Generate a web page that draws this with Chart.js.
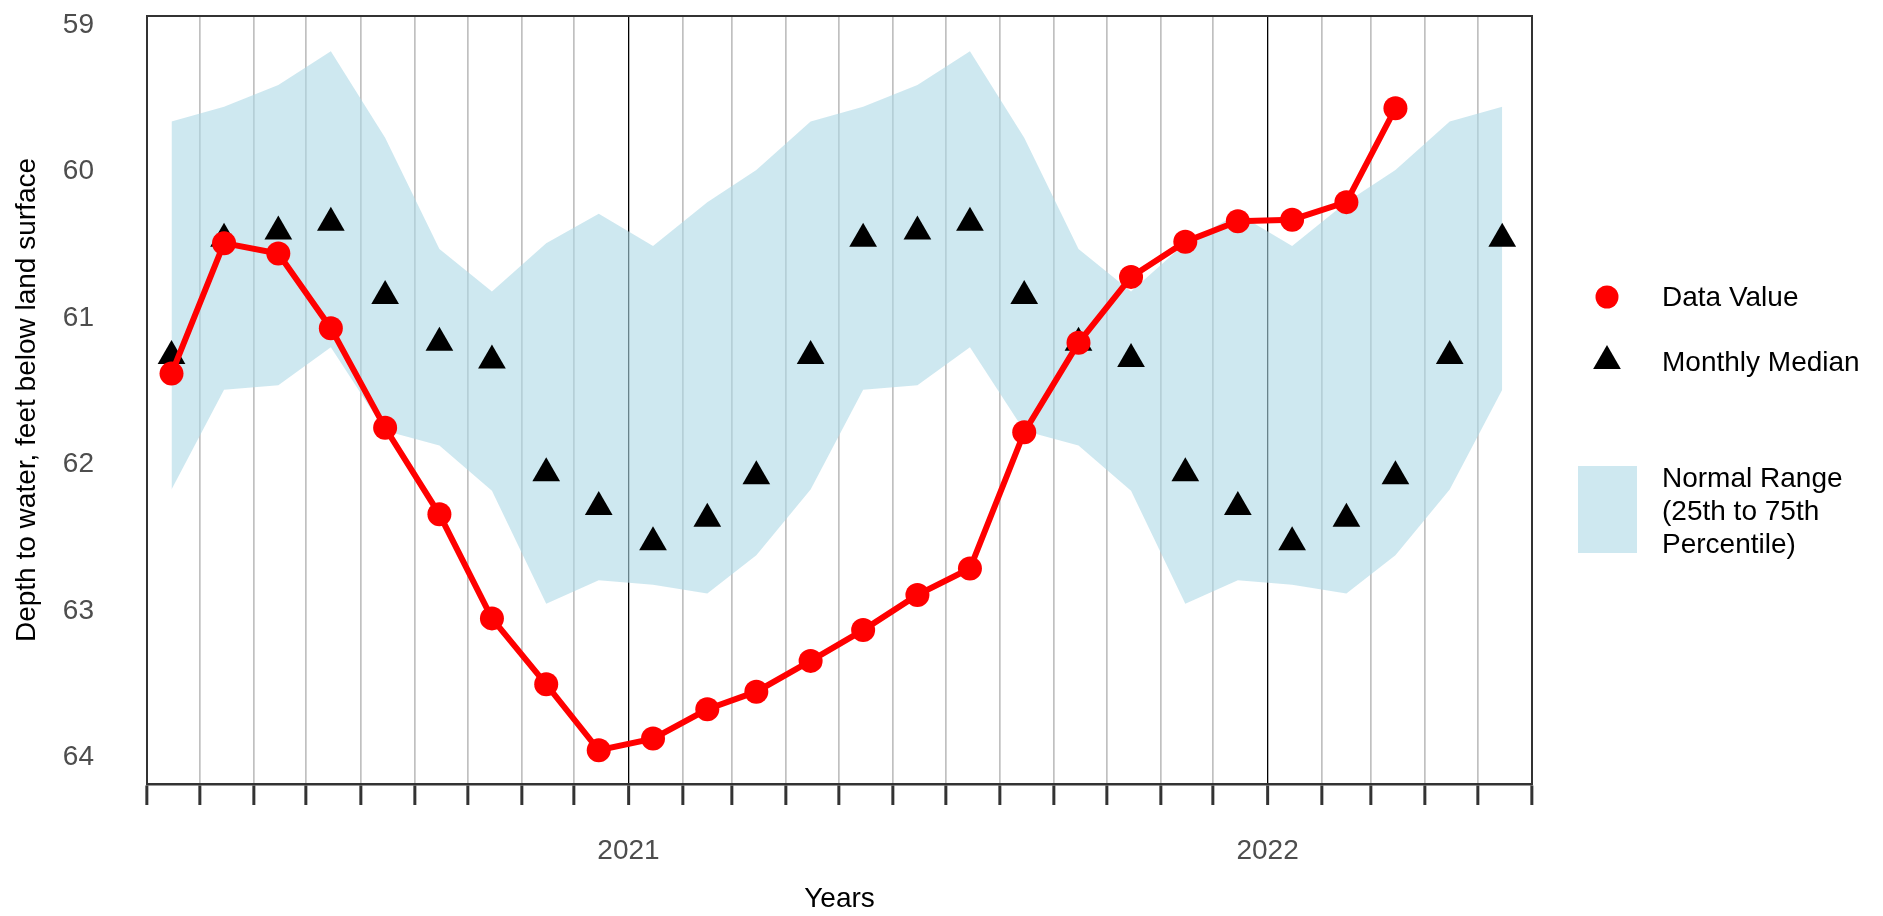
<!DOCTYPE html>
<html>
<head>
<meta charset="utf-8">
<title>Depth to water</title>
<script src="https://cdn.jsdelivr.net/npm/chart.js@4.4.1/dist/chart.umd.min.js"></script>
<style>
  html, body { margin: 0; padding: 0; background: #fff; }
  canvas { display: block; }
</style>
</head>
<body>
<canvas id="chart" width="1883" height="916"></canvas>
<script>
// ---------- Data ----------
// one entry per month, points sit at the middle of the month
const months = [
  '2020-04','2020-05','2020-06','2020-07','2020-08','2020-09','2020-10','2020-11','2020-12',
  '2021-01','2021-02','2021-03','2021-04','2021-05','2021-06','2021-07','2021-08','2021-09',
  '2021-10','2021-11','2021-12','2022-01','2022-02','2022-03','2022-04','2022-05'
];

// measured depth to water, Apr 2020 .. Mar 2022
const dataValue = [
  61.38, 60.49, 60.56, 61.07, 61.75, 62.34, 63.05, 63.50, 63.95,
  63.87, 63.67, 63.55, 63.34, 63.13, 62.89, 62.71, 61.78, 61.17,
  60.72, 60.48, 60.34, 60.33, 60.21, 59.57
];

// monthly median, Apr 2020 .. May 2022
const monthlyMedian = [
  61.26, 60.46, 60.41, 60.35, 60.85, 61.17, 61.29, 62.06, 62.29,
  62.53, 62.37, 62.08, 61.26, 60.46, 60.41, 60.35, 60.85, 61.17,
  61.28, 62.06, 62.29, 62.53, 62.37, 62.08, 61.26, 60.46
];

// normal range edges (shallow edge and deep edge)
const rangeTop = [
  59.66, 59.56, 59.41, 59.18, 59.77, 60.53, 60.82, 60.49, 60.29,
  60.51, 60.21, 59.99, 59.66, 59.56, 59.41, 59.18, 59.77, 60.53,
  60.82, 60.49, 60.29, 60.51, 60.21, 59.99, 59.66, 59.56
];
const rangeBottom = [
  62.17, 61.49, 61.46, 61.20, 61.77, 61.87, 62.18, 62.95, 62.79,
  62.82, 62.88, 62.62, 62.17, 61.49, 61.46, 61.20, 61.77, 61.87,
  62.18, 62.95, 62.79, 62.82, 62.88, 62.62, 62.17, 61.49
];

const yTicks = [59, 60, 61, 62, 63, 64];
const xStart = '2020-04-01';
const xEnd = '2022-06-01';

// ---------- Helpers ----------
function dayNum(str) {
  const p = str.split('-').map(Number);
  return Date.UTC(p[0], p[1] - 1, p[2] || 15) / 864e5;
}
function series(vals) {
  return vals.map((v, i) => ({ x: dayNum(months[i]), y: v }));
}
function monthStarts() {
  const out = [];
  let [y, m] = xStart.split('-').map(Number);
  const end = dayNum(xEnd);
  while (true) {
    const d = Date.UTC(y, m - 1, 1) / 864e5;
    if (d > end) break;
    out.push({ value: d, year: y, jan: m === 1 });
    m++; if (m > 12) { m = 1; y++; }
  }
  return out;
}
const ticksX = monthStarts();
const yearStart = {};
ticksX.forEach(t => { if (t.jan) yearStart[t.value] = String(t.year); });

const FONT = "'Liberation Sans', Arial, sans-serif";
const BAND = 'rgba(173,216,230,0.6)';

// ---------- Plugins ----------
const frame = {
  id: 'frame',
  afterDatasetsDraw(chart) {
    const { ctx, chartArea: a } = chart;
    ctx.save();
    ctx.strokeStyle = '#333333';
    ctx.lineWidth = 2;
    ctx.strokeRect(a.left, a.top, a.right - a.left, a.bottom - a.top);
    ctx.restore();
  }
};

const sideLegend = {
  id: 'sideLegend',
  afterDraw(chart) {
    const { ctx, chartArea: a } = chart;
    const sx = a.right + 75;
    const tx = a.right + 130;
    ctx.save();
    ctx.font = '28px ' + FONT;
    ctx.fillStyle = '#000';
    ctx.textBaseline = 'middle';
    ctx.textAlign = 'left';

    // data value
    ctx.fillStyle = '#ff0000';
    ctx.beginPath(); ctx.arc(sx, 297, 11.5, 0, Math.PI * 2); ctx.fill();
    ctx.fillStyle = '#000';
    ctx.fillText('Data Value', tx, 298);

    // monthly median
    const r = 16, cy = 361;
    ctx.beginPath();
    ctx.moveTo(sx, cy - r);
    ctx.lineTo(sx + r * Math.sqrt(3) / 2, cy + r / 2);
    ctx.lineTo(sx - r * Math.sqrt(3) / 2, cy + r / 2);
    ctx.closePath(); ctx.fill();
    ctx.fillText('Monthly Median', tx, 363);

    // normal range
    ctx.fillStyle = BAND;
    ctx.fillRect(a.right + 46, 466, 59, 87);
    ctx.fillStyle = '#000';
    ['Normal Range', '(25th to 75th', 'Percentile)'].forEach((s, i) => ctx.fillText(s, tx, 479 + i * 33));
    ctx.restore();
  }
};

// ---------- Chart ----------
new Chart(document.getElementById('chart').getContext('2d'), {
  type: 'line',
  data: {
    datasets: [
      {
        label: 'Data Value',
        data: series(dataValue),
        borderColor: '#ff0000',
        backgroundColor: '#ff0000',
        borderWidth: 6,
        pointRadius: 12,
        pointBorderWidth: 0,
        pointBackgroundColor: '#ff0000',
        tension: 0,
        fill: false
      },
      {
        label: 'Monthly Median',
        data: series(monthlyMedian),
        showLine: false,
        pointStyle: 'triangle',
        pointRadius: 16,
        pointBorderWidth: 0,
        pointBackgroundColor: '#000000',
        fill: false
      },
      {
        label: 'rangeBottom',
        data: series(rangeBottom),
        borderWidth: 0,
        pointRadius: 0,
        fill: false
      },
      {
        label: 'Normal Range',
        data: series(rangeTop),
        borderWidth: 0,
        pointRadius: 0,
        backgroundColor: BAND,
        fill: '-1'
      }
    ]
  },
  options: {
    responsive: false,
    devicePixelRatio: 1,
    animation: false,
    layout: { padding: { left: 0, top: 11, right: 351, bottom: 0 } },
    plugins: {
      legend: { display: false },
      tooltip: { enabled: false },
      filler: { propagate: false }
    },
    scales: {
      x: {
        type: 'linear',
        min: dayNum(xStart),
        max: dayNum(xEnd),
        afterBuildTicks: s => { s.ticks = ticksX.map(t => ({ value: t.value })); },
        afterFit: s => { s.height = 132; },
        ticks: {
          autoSkip: false,
          maxRotation: 0,
          padding: 29,
          color: '#4d4d4d',
          font: { family: FONT, size: 28 },
          callback: v => yearStart[v] || ''
        },
        grid: {
          color: c => (c.tick && yearStart[c.tick.value]) ? '#000000' : '#c0c0c0',
          lineWidth: c => (c.tick && yearStart[c.tick.value]) ? 1.3 : 1.7,
          tickColor: '#333333',
          tickWidth: 3,
          tickLength: 21
        },
        border: { display: true, color: '#333333', width: 2.5 },
        title: {
          display: true,
          text: 'Years',
          color: '#000',
          font: { family: FONT, size: 28 },
          padding: { top: 0, bottom: 0 }
        }
      },
      y: {
        type: 'linear',
        reverse: true,
        min: 58.94,
        max: 64.18,
        afterBuildTicks: s => { s.ticks = yTicks.map(v => ({ value: v })); },
        afterFit: s => { s.width = 147; s.paddingTop = 0; s.paddingBottom = 0; },
        ticks: {
          padding: 53,
          color: '#4d4d4d',
          font: { family: FONT, size: 28 }
        },
        grid: { display: false, drawTicks: false },
        border: { display: true, color: '#333333', width: 2 },
        title: {
          display: true,
          text: 'Depth to water, feet below land surface',
          color: '#000',
          font: { family: FONT, size: 28 },
          padding: { top: 10, bottom: 0 }
        }
      }
    }
  },
  plugins: [frame, sideLegend]
});
</script>
</body>
</html>
